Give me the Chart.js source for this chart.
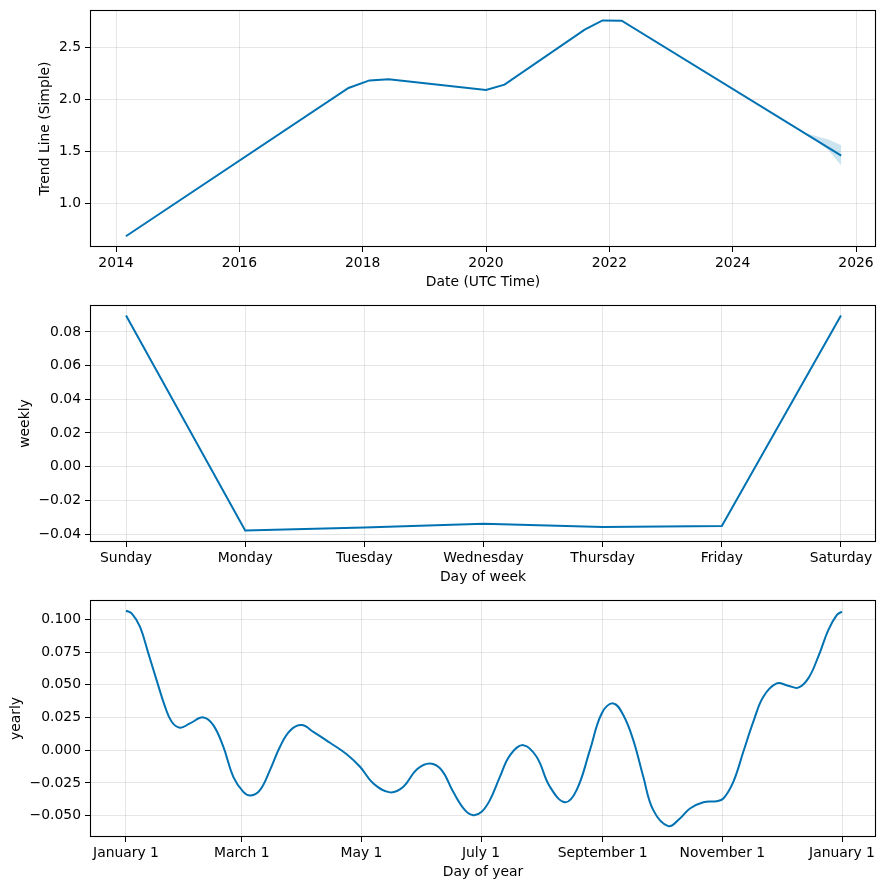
<!DOCTYPE html>
<html>
<head>
<meta charset="utf-8">
<script src="https://cdn.jsdelivr.net/npm/chart.js@4.4.0/dist/chart.umd.min.js"></script>
<style>
html,body{margin:0;padding:0;background:#fff;}
.box{position:absolute;left:0;width:886px;height:295px;}
canvas{display:block;}
</style>
</head>
<body>
<div class="box" style="top:0px"><canvas id="c1" width="886" height="295"></canvas></div>
<div class="box" style="top:295px"><canvas id="c2" width="886" height="295"></canvas></div>
<div class="box" style="top:590px"><canvas id="c3" width="886" height="295"></canvas></div>
<script>
// ---------- data ----------
const trendYears  = [2014.16, 2017.77, 2018.11, 2018.42, 2020.00, 2020.30, 2021.60, 2021.89, 2022.20, 2025.76];
const trendValues = [0.680,   2.106,   2.179,   2.189,   2.087,   2.138,   2.667,   2.756,   2.753,   1.455];
const bandYears   = [2025.20, 2025.55, 2025.76];
const bandUpper   = [1.668,   1.610,   1.555];
const bandLower   = [1.668,   1.510,   1.360];

const weekDays     = ['Sunday','Monday','Tuesday','Wednesday','Thursday','Friday','Saturday'];
const weeklyValues = [0.0898, -0.0379, -0.0361, -0.0339, -0.0359, -0.0353, 0.0898];

const yearTickDays   = [0, 59, 120, 181, 243, 304, 365];
const yearTickLabels = ['January 1','March 1','May 1','July 1','September 1','November 1','January 1'];
const yearlyDays = [0,2.9,7.1,11.4,15.6,19.9,23.3,27.5,32.6,39.4,
  44.5,49.6,54.7,59.8,63.5,68.3,73.4,78.5,83.6,89.5,
  95.5,104,112.5,119.3,126.1,134.6,141.4,148.2,155,160.9,
  166.8,172.8,177,181.3,185.5,190.6,195.8,202.5,209.3,216.1,
  223.8,229.7,236.5,242.5,248.4,253.5,258.6,263.7,268.8,276.4,
  282.4,287.5,294.3,301.1,304.5,309.6,314.7,319.8,324.9,331.7,
  337.6,342.7,347.8,352.9,358,362.3,365];
const yearlyValues = [0.1066,0.1046,0.0944,0.074,0.0536,0.0333,0.0218,0.0172,0.0205,0.0251,
  0.0192,0.0027,-0.0203,-0.0318,-0.0346,-0.0305,-0.0152,0.0027,0.0149,0.0192,
  0.0141,0.0057,-0.003,-0.0126,-0.0254,-0.0322,-0.0279,-0.0147,-0.0101,-0.0152,
  -0.0318,-0.0458,-0.0496,-0.047,-0.0381,-0.0203,-0.0037,0.0039,-0.005,-0.0279,
  -0.0397,-0.0305,0.0001,0.0281,0.0358,0.0269,0.0077,-0.0203,-0.0458,-0.058,
  -0.0521,-0.0445,-0.0397,-0.0389,-0.0369,-0.0241,-0.0012,0.0218,0.0409,0.0511,
  0.0493,0.0478,0.0549,0.0715,0.0918,0.1033,0.1059];

// ---------- styling ----------
const LINE = '#0072B2';
const BAND = 'rgba(0,114,178,0.2)';
Chart.defaults.font.family = "'DejaVu Sans', sans-serif";
Chart.defaults.font.size = 13.9;
Chart.defaults.color = '#000';
Chart.defaults.animation = false;

const framePlugin = {
  id: 'frame',
  afterDraw(chart) {
    const {ctx, chartArea: a} = chart;
    ctx.save();
    ctx.strokeStyle = '#000';
    ctx.lineWidth = 1.1;
    ctx.strokeRect(Math.round(a.left) + 0.5, Math.round(a.top) + 0.5,
                   Math.round(a.right - a.left) - 1, Math.round(a.bottom - a.top) - 1);
    ctx.restore();
  }
};

const fmt = (v, d) => (v < 0 ? '\u2212' : '') + Math.abs(v).toFixed(d);
const pts = (xs, ys) => xs.map((x, i) => ({x: x, y: ys[i]}));

function opts(c) {
  return {
    responsive: false,
    animation: false,
    layout: {padding: {top: 10, right: 10, left: 0, bottom: 0}},
    plugins: {legend: {display: false}, tooltip: {enabled: false}},
    scales: {
      x: {
        type: 'linear', min: c.xmin, max: c.xmax,
        afterFit: s => { s.height = 48; s.paddingLeft = 0; s.paddingRight = 0; },
        afterBuildTicks: c.xticks ? (s => { s.ticks = c.xticks.map(v => ({value: v})); }) : undefined,
        ticks: {stepSize: c.xstep, includeBounds: false, autoSkip: false, maxRotation: 0, minRotation: 0,
                padding: 3, callback: c.xcb},
        grid: {color: 'rgba(128,128,128,0.2)', lineWidth: 1, drawTicks: true, tickLength: 5,
               tickColor: '#000', tickWidth: 1},
        border: {display: false},
        title: {display: true, text: c.xtitle, padding: {top: 0, bottom: 4.2}}
      },
      y: {
        type: 'linear', min: c.ymin, max: c.ymax,
        afterFit: s => { s.width = 90; s.paddingTop = 0; s.paddingBottom = 0; },
        ticks: {stepSize: c.ystep, includeBounds: false, padding: 4, callback: v => fmt(v, c.ydec)},
        grid: {color: 'rgba(128,128,128,0.2)', lineWidth: 1, drawTicks: true, tickLength: 5,
               tickColor: '#000', tickWidth: 1},
        border: {display: false},
        title: {display: true, text: c.ytitle, padding: {top: c.ypad, bottom: 0}}
      }
    }
  };
}

// ---------- trend ----------
new Chart(document.getElementById('c1'), {
  type: 'line',
  data: {datasets: [
    {data: pts(bandYears, bandLower), borderWidth: 0, pointRadius: 0, fill: false, backgroundColor: BAND},
    {data: pts(bandYears, bandUpper), borderWidth: 0, pointRadius: 0, fill: '-1', backgroundColor: BAND},
    {data: pts(trendYears, trendValues), borderColor: LINE, borderWidth: 2, pointRadius: 0, fill: false, tension: 0}
  ]},
  options: opts({xmin: 2013.578, xmax: 2026.324, xstep: 2, xcb: v => String(v),
                 ymin: 0.577, ymax: 2.856, ystep: 0.5, ydec: 1,
                 xtitle: 'Date (UTC Time)', ytitle: 'Trend Line (Simple)', ypad: 36.7}),
  plugins: [framePlugin]
});

// ---------- weekly ----------
new Chart(document.getElementById('c2'), {
  type: 'line',
  data: {datasets: [
    {data: pts(weekDays.map((d, i) => i), weeklyValues), borderColor: LINE, borderWidth: 2, pointRadius: 0, fill: false, tension: 0}
  ]},
  options: opts({xmin: -0.3025, xmax: 6.294, xstep: 1, xcb: v => weekDays[Math.round(v)],
                 ymin: -0.04475, ymax: 0.096, ystep: 0.02, ydec: 2,
                 xtitle: 'Day of week', ytitle: 'weekly', ypad: 17.5}),
  plugins: [framePlugin]
});

// ---------- yearly ----------
new Chart(document.getElementById('c3'), {
  type: 'line',
  data: {datasets: [
    {data: pts(yearlyDays, yearlyValues), borderColor: LINE, borderWidth: 2, pointRadius: 0, fill: false,
     tension: 0.4}
  ]},
  options: opts({xmin: -18.35, xmax: 382.33, xticks: yearTickDays,
                 xcb: (v) => yearTickLabels[yearTickDays.indexOf(v)],
                 ymin: -0.0663, ymax: 0.1148, ystep: 0.025, ydec: 3,
                 xtitle: 'Day of year', ytitle: 'yearly', ypad: 8.5}),
  plugins: [framePlugin]
});
</script>
</body>
</html>
